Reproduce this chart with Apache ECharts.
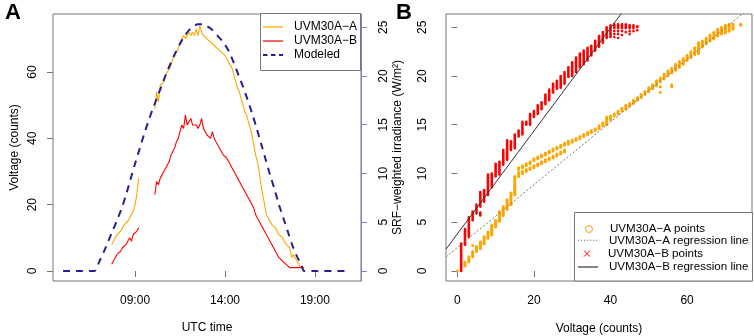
<!DOCTYPE html>
<html>
<head>
<meta charset="utf-8">
<script src="https://cdn.jsdelivr.net/npm/echarts@6/dist/echarts.min.js"></script>
<style>
  html, body { margin: 0; padding: 0; background: #fff; }
  #chart { width: 754px; height: 336px; }
</style>
</head>
<body>
<div id="chart"></div>
<script>
// panel A: sensor readings (counts) against UTC hour, '-' marks the gap in the record
var obsHours = [7.7, 7.8, 7.9, 8.0, 8.1, 8.2, 8.3, 8.4, 8.5, 8.6, 8.7, 8.8, 8.9, 9.0, 9.1, 9.2,
  9.6,
  10.1, 10.2, 10.3, 10.4, 10.5, 10.6, 10.7, 10.8, 10.9, 11.0, 11.1, 11.2, 11.3, 11.4, 11.5, 11.6, 11.7, 11.8, 11.9,
  12.0, 12.1, 12.2, 12.3, 12.4, 12.5, 12.6, 12.7, 12.8, 12.9, 13.0, 13.1, 13.2, 13.3, 13.4, 13.5, 13.6, 13.7, 13.8, 13.9,
  14.0, 14.1, 14.2, 14.3, 14.4, 14.5, 14.6, 14.7, 14.8, 14.9, 15.0, 15.1, 15.2, 15.3, 15.4, 15.5, 15.6, 15.7, 15.8, 15.9,
  16.0, 16.1, 16.2, 16.3, 16.4, 16.5, 16.6, 16.7, 16.8, 16.9, 17.0, 17.1, 17.2, 17.3, 17.4, 17.5, 17.6, 17.7, 17.8, 17.9,
  18.0, 18.1, 18.2, 18.3, 18.4];
var voltA = [8, 9, 10, 11, 11, 12, 13, 14, 14, 15, 16, 17, 18, 20, 23, 28,
  '-',
  49, 54, 51, 56, 56, 57, 59, 60, 61, 62, 64, 65, 66, 67, 69, 69, 71, 70, 71,
  72, 71, 72, 71, 73, 71, 74, 72, 71, 71, 70, 70, 69, 69, 68, 68, 67, 67, 66, 66,
  65, 64, 63, 62, 61, 59, 57, 55, 54, 52, 50, 48, 47, 45, 43, 41, 38, 35, 33, 30,
  26, 23, 20, 17, 16, 15, 14, 14, 13, 12, 11, 11, 10, 9, 8, 8, 7, 4, 5, 4,
  3, 2, 1, 1, 1];
var voltB = [2, 3, 4, 5, 5, 6, 7, 7, 8, 8, 10, 9, 11, 11, 12, 13,
  '-',
  23, 27, 26, 28, 28, 30, 31, 32, 33, 35, 36, 37, 39, 40, 42, 44, 43, 47, 44,
  44, 46, 44, 44, 44, 43, 44, 46, 43, 42, 41, 41, 40, 42, 40, 39, 38, 37, 36, 35,
  35, 34, 33, 32, 31, 30, 29, 28, 27, 26, 25, 24, 23, 22, 21, 20, 19, 17, 16, 15,
  14, 13, 12, 11, 10, 9, 8, 7, 6, 5, 4, 4, 3, 3, 2, 2, 1, 1, 1, 1,
  1, 1, 1, 1, 1];

// modeled SRF-weighted irradiance (W/m2)
var modelHours = [5.0, 6.0, 6.75, 7.0, 7.25, 7.5, 7.75, 8.0, 8.25, 8.5, 8.75, 9.0, 9.25, 9.5, 9.75,
  10.0, 10.25, 10.5, 10.75, 11.0, 11.25, 11.5, 11.75, 12.0, 12.25, 12.5, 12.75, 13.0, 13.25, 13.5, 13.75,
  14.0, 14.25, 14.5, 14.75, 15.0, 15.25, 15.5, 15.75, 16.0, 16.25, 16.5, 16.75, 17.0, 17.25, 17.5, 17.75,
  18.0, 18.25, 18.4, 19.0, 20.8];
var modelIrr = [0, 0, 0, 0.9, 1.9, 3.0, 4.1, 5.2, 6.4, 7.8, 9.4, 11.0, 12.5, 14.0, 15.4,
  16.7, 17.9, 19.1, 20.3, 21.4, 22.4, 23.3, 24.1, 24.7, 25.1, 25.3, 25.3, 25.1, 24.8, 24.3, 23.8,
  23.2, 22.4, 21.3, 20.1, 18.9, 17.6, 16.2, 14.7, 13.1, 11.5, 9.9, 8.4, 6.8, 5.4, 4.0, 2.6,
  1.5, 0.6, 0, 0, 0];

var hourTicks = [9, 14, 19];
var countTicks = [0, 20, 40, 60];
var irrTicks = [0, 5, 10, 15, 20, 25];
var voltTicks = [0, 20, 40, 60];

// panel B: point clusters [voltage, lowest irradiance, highest irradiance]
var pointsA = [[0, 0, 0], [2, 0.5, 0.9], [3, 0.95, 1.45], [4, 1.45, 2.0], [4, 2.6, 2.6], [5, 2.0, 2.5],
  [6, 2.3, 3.0], [7, 2.8, 3.5], [8, 3.35, 4.0], [9, 3.7, 4.7], [10, 4.5, 5.2], [11, 5.1, 6.1],
  [12, 5.7, 6.6], [13, 6.3, 7.3], [14, 6.8, 8.0], [15, 7.8, 9.7],
  [16, 9.7, 10.1], [16, 10.4, 10.6], [17, 10.0, 10.2], [17, 10.6, 10.8], [18, 10.2, 10.4], [18, 10.8, 11.0],
  [19, 10.4, 10.6], [19, 11.0, 11.2], [20, 10.6, 10.8], [20, 11.3, 11.5], [21, 10.8, 11.0], [21, 11.5, 11.7],
  [22, 11.0, 11.2], [22, 11.7, 11.9], [23, 11.2, 11.4], [23, 11.9, 12.1], [24, 11.4, 11.6], [24, 12.1, 12.3],
  [25, 11.6, 11.8], [25, 12.3, 12.5], [26, 11.8, 12.0], [26, 12.5, 12.7], [27, 12.0, 12.2], [27, 12.7, 12.9],
  [28, 12.2, 12.4], [28, 12.9, 13.1],
  [29, 13.0, 13.3], [30, 13.2, 13.4], [31, 13.4, 13.6], [32, 13.6, 13.8], [33, 13.8, 14.0], [34, 14.0, 14.2],
  [35, 14.2, 14.4], [36, 14.4, 14.6], [37, 14.6, 14.9], [38, 14.9, 15.2], [39, 15.0, 15.8], [40, 15.5, 15.9],
  [41, 15.9, 16.1], [42, 16.1, 16.4], [43, 16.4, 16.7], [44, 16.6, 17.0], [45, 16.9, 17.2], [46, 17.2, 17.5],
  [47, 17.5, 17.8], [48, 17.8, 18.1], [49, 18.1, 18.4], [50, 18.4, 18.8], [51, 18.7, 19.1], [52, 19.0, 19.5],
  [53, 19.4, 19.8], [53, 18.3, 18.3], [53, 18.9, 18.9], [54, 19.7, 20.2], [55, 20.0, 20.5], [56, 20.3, 20.8],
  [56, 18.9, 19.1], [57, 20.6, 21.2], [58, 20.9, 21.5], [59, 21.2, 21.8], [60, 21.6, 22.1], [61, 21.9, 22.5],
  [62, 22.2, 22.9], [63, 22.3, 23.4], [64, 23.0, 23.6], [65, 23.3, 23.9], [66, 23.6, 24.2], [67, 23.8, 24.5],
  [68, 24.1, 24.8], [69, 24.3, 25.0], [70, 24.4, 25.2], [71, 24.6, 25.3], [72, 24.8, 25.3], [74, 25.2, 25.3]];
var pointsB = [[1, 0, 2.8], [2, 2.7, 4.3], [3, 3.5, 5.5], [4, 5.2, 6.1], [5, 5.9, 6.8], [6, 5.7, 6.0],
  [6, 6.6, 8.1], [7, 7.1, 8.3], [8, 7.8, 9.9], [9, 8.6, 10.0], [10, 9.7, 11.0], [11, 9.9, 11.2],
  [12, 10.9, 12.4], [13, 11.4, 13.4], [14, 12.4, 13.3], [15, 12.6, 14.0], [16, 13.8, 14.4], [17, 14.0, 15.3],
  [18, 15.0, 15.3], [19, 15.0, 16.1], [20, 15.8, 16.4], [21, 16.1, 17.0], [22, 16.6, 17.3], [23, 17.1, 18.1],
  [24, 17.5, 18.6], [25, 18.3, 19.2], [26, 18.7, 19.5], [27, 18.8, 20.0], [28, 19.2, 20.4], [29, 19.9, 20.9],
  [30, 20.0, 21.4], [31, 20.4, 21.9], [32, 20.9, 22.3], [33, 21.2, 22.6], [34, 21.6, 22.9], [35, 22.1, 23.1],
  [36, 22.6, 23.6], [37, 23.0, 24.1], [38, 23.4, 24.5], [39, 23.9, 25.0], [40, 24.0, 25.2],
  [41, 24.0, 24.0], [41, 24.3, 24.3], [41, 24.6, 24.6], [41, 24.9, 25.3],
  [42, 23.9, 23.9], [42, 24.3, 24.3], [42, 24.6, 24.6], [42, 24.9, 25.3],
  [43, 24.2, 24.2], [43, 24.6, 24.6], [43, 24.9, 25.3],
  [44, 24.5, 24.5], [44, 24.9, 25.3],
  [45, 24.3, 24.3], [45, 24.6, 24.6], [45, 24.9, 25.2],
  [46, 24.6, 24.6], [46, 24.9, 25.2],
  [47, 24.7, 24.7], [47, 25.0, 25.1]];

// regression lines: [intercept, slope]
var fitA = [2.4, 0.322];
var fitB = [3.8, 0.528];

var font = 'Liberation Sans, Arial, sans-serif';
var frame = '#767676';
var orange = '#FFA500';
var red = '#FF0000';
var navy = '#26208C';
var slate = '#7F7FD0';

var xMinB = -2.96, xMaxB = 76.96;

// legend glyphs, drawn in the left 20px of a 26px box so the label sits further right
var iconLine = 'path://M0,0 M26,12 M0,5.4 L20,5.4 L20,6.6 L0,6.6 Z';
var iconDash = 'path://M0,0 M26,12 M0,5 L4.5,5 L4.5,7 L0,7 Z M8,5 L12.5,5 L12.5,7 L8,7 Z M16,5 L20,5 L20,7 L16,7 Z';
var iconDot = 'path://M0,0 M26,12 M0,5.5 L1.2,5.5 L1.2,6.5 L0,6.5 Z M3,5.5 L4.2,5.5 L4.2,6.5 L3,6.5 Z M6,5.5 L7.2,5.5 L7.2,6.5 L6,6.5 Z M9,5.5 L10.2,5.5 L10.2,6.5 L9,6.5 Z M12,5.5 L13.2,5.5 L13.2,6.5 L12,6.5 Z M15,5.5 L16.2,5.5 L16.2,6.5 L15,6.5 Z M18,5.5 L19.2,5.5 L19.2,6.5 L18,6.5 Z';
var iconCircle = 'path://M0,0 M26,12 M13.5,6 A3.5,3.5 0 1 1 6.5,6 A3.5,3.5 0 1 1 13.5,6 Z';
var iconCross = 'path://M0,0 M26,12 M7,3 L13,9 M13,3 L7,9';

function pairs(xs, ys) {
    return xs.map(function (x, i) { return [x, ys[i]]; });
}
function fitLine(fit) {
    return [[xMinB, fit[0] + fit[1] * xMinB], [xMaxB, fit[0] + fit[1] * xMaxB]];
}
function clusters(color, w) {
    return function (params, api) {
        var top = api.coord([api.value(0), api.value(2)]);
        var bot = api.coord([api.value(0), api.value(1)]);
        return {
            type: 'rect',
            shape: { x: top[0] - w / 2, y: top[1] - w / 2, width: w, height: bot[1] - top[1] + w, r: w / 2 },
            style: { fill: color }
        };
    };
}
// one legend row per component so the rows sit where the reference has them
function legendRow(left, top, name, icon, fill, stroke, width, size) {
    return {
        left: left, top: top, orient: 'horizontal', padding: 0, selectedMode: false,
        itemWidth: 26, itemHeight: 12, z: 5,
        data: [{ name: name, icon: icon, itemStyle: { color: fill, borderColor: stroke, borderWidth: width } }],
        textStyle: { color: '#000', fontSize: size, fontFamily: font }
    };
}

var myChart = echarts.init(document.getElementById('chart'));
var option = {
    animation: false,
    textStyle: { fontFamily: font },
    grid: [
        { left: 53, top: 14, width: 308, height: 267, show: true, borderColor: frame, borderWidth: 1, outerBoundsMode: 'none' },
        { left: 446, top: 14, width: 306, height: 267, show: true, borderColor: frame, borderWidth: 1, outerBoundsMode: 'none' }
    ],
    xAxis: [
        {
            type: 'value', gridIndex: 0, min: 4.44, max: 21.56,
            name: 'UTC time', nameLocation: 'middle', nameGap: 41,
            nameTextStyle: { color: '#000', fontSize: 12, fontFamily: font },
            axisLine: { show: false },
            splitLine: { show: false },
            axisTick: { show: true, length: 6, lineStyle: { color: frame }, customValues: hourTicks },
            axisLabel: {
                color: '#000', fontSize: 12, fontFamily: font, margin: 14, customValues: hourTicks,
                formatter: function (v) { return (v < 10 ? '0' : '') + v + ':00'; }
            }
        },
        {
            type: 'value', gridIndex: 1, min: xMinB, max: xMaxB,
            name: 'Voltage (counts)', nameLocation: 'middle', nameGap: 42,
            nameTextStyle: { color: '#000', fontSize: 12, fontFamily: font },
            axisLine: { show: false },
            splitLine: { show: false },
            axisTick: { show: true, length: 6, lineStyle: { color: frame }, customValues: voltTicks },
            axisLabel: { color: '#000', fontSize: 12, fontFamily: font, margin: 14, customValues: voltTicks }
        }
    ],
    yAxis: [
        {
            type: 'value', gridIndex: 0, min: -3.02, max: 77.49,
            name: 'Voltage (counts)', nameLocation: 'middle', nameGap: 32, nameRotate: 90,
            nameTextStyle: { color: '#000', fontSize: 12, fontFamily: font },
            axisLine: { show: false },
            splitLine: { show: false },
            axisTick: { show: true, length: 6, lineStyle: { color: frame }, customValues: countTicks },
            axisLabel: { color: '#000', fontSize: 12, fontFamily: font, rotate: 90, margin: 14, customValues: countTicks }
        },
        {
            type: 'value', gridIndex: 0, position: 'right', min: -1.03, max: 26.36,
            name: 'SRF\u2212weighted irradiance (W/m\u00B2)', nameLocation: 'middle', nameGap: 31, nameRotate: 90,
            nameTextStyle: { color: '#000', fontSize: 12, fontFamily: font },
            axisLine: { show: true, lineStyle: { color: slate } },
            splitLine: { show: false },
            axisTick: { show: true, length: 6, lineStyle: { color: slate }, customValues: irrTicks },
            axisLabel: { color: '#000', fontSize: 12, fontFamily: font, rotate: 90, margin: 17, customValues: irrTicks }
        },
        {
            type: 'value', gridIndex: 1, min: -1.03, max: 26.36,
            axisLine: { show: false },
            splitLine: { show: false },
            axisTick: { show: true, length: 6, lineStyle: { color: frame }, customValues: irrTicks },
            axisLabel: { color: '#000', fontSize: 12, fontFamily: font, rotate: 90, margin: 17, customValues: irrTicks }
        }
    ],
    legend: [
        legendRow(263, 21, 'UVM30A\u2212A', iconLine, orange, orange, 0, 12),
        legendRow(263, 35, 'UVM30A\u2212B', iconLine, red, red, 0, 12),
        legendRow(263, 49, 'Modeled', iconDash, navy, navy, 0, 12),
        legendRow(576.5, 220.5, 'UVM30A\u2212A points', iconCircle, 'none', orange, 1, 11.6),
        legendRow(578, 234.3, 'UVM30A\u2212A regression line', iconDot, '#777', '#777', 0, 11.6),
        legendRow(576.5, 247.1, 'UVM30A\u2212B points', iconCross, red, red, 1, 11.6),
        legendRow(578, 261, 'UVM30A\u2212B regression line', iconLine, '#333', '#333', 0, 11.6)
    ],
    graphic: [
        { type: 'text', left: 5, top: 2, style: { text: 'A', fontSize: 22, fontWeight: 'bold', fontFamily: font, fill: '#000' } },
        { type: 'text', left: 396, top: 2, style: { text: 'B', fontSize: 22, fontWeight: 'bold', fontFamily: font, fill: '#000' } },
        { type: 'rect', z: 4, shape: { x: 260.5, y: 13.5, width: 100, height: 57 }, style: { fill: '#fff', stroke: frame, lineWidth: 1 } },
        { type: 'rect', z: 4, shape: { x: 574.5, y: 212.5, width: 178, height: 68.5 }, style: { fill: '#fff', stroke: frame, lineWidth: 1 } }
    ],
    series: [
        {
            name: 'UVM30A\u2212A', type: 'line', xAxisIndex: 0, yAxisIndex: 0,
            data: pairs(obsHours, voltA), symbol: 'none', color: orange,
            lineStyle: { color: orange, width: 1.1 }
        },
        {
            name: 'UVM30A\u2212B', type: 'line', xAxisIndex: 0, yAxisIndex: 0,
            data: pairs(obsHours, voltB), symbol: 'none', color: red,
            lineStyle: { color: red, width: 1.1 }
        },
        {
            name: 'Modeled', type: 'line', xAxisIndex: 0, yAxisIndex: 1,
            data: pairs(modelHours, modelIrr), symbol: 'none', color: navy, smooth: 0.3,
            lineStyle: { color: navy, width: 2, type: [7, 6] }
        },
        {
            name: 'UVM30A\u2212A points', type: 'custom', xAxisIndex: 1, yAxisIndex: 2,
            data: pointsA, encode: { x: 0, y: [1, 2] }, color: orange,
            renderItem: clusters(orange, 3)
        },
        {
            name: 'UVM30A\u2212B points', type: 'custom', xAxisIndex: 1, yAxisIndex: 2,
            data: pointsB, encode: { x: 0, y: [1, 2] }, color: red,
            renderItem: clusters(red, 2.6)
        },
        {
            name: 'UVM30A\u2212A regression line', type: 'line', xAxisIndex: 1, yAxisIndex: 2,
            data: fitLine(fitA), symbol: 'none', color: '#777',
            lineStyle: { color: '#777', width: 1, type: [2, 2] }
        },
        {
            name: 'UVM30A\u2212B regression line', type: 'line', xAxisIndex: 1, yAxisIndex: 2,
            data: fitLine(fitB), symbol: 'none', color: '#333',
            lineStyle: { color: '#333', width: 1 }
        }
    ]
};
myChart.setOption(option);
</script>
</body>
</html>
